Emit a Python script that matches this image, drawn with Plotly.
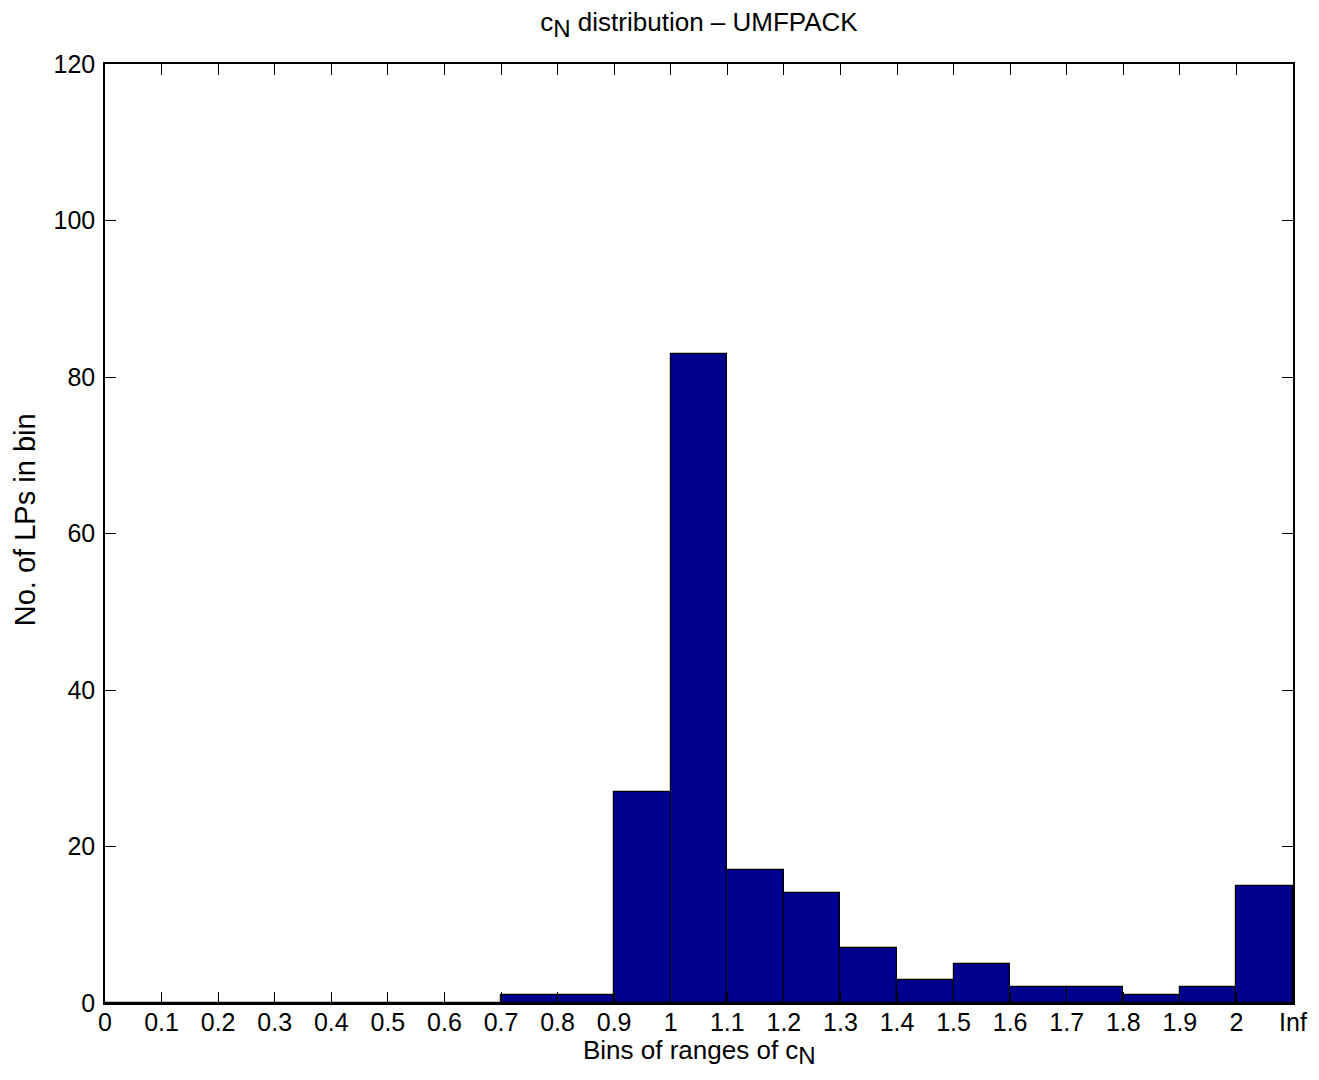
import plotly.graph_objects as go

tick_labels = ["0", "0.1", "0.2", "0.3", "0.4", "0.5", "0.6", "0.7", "0.8", "0.9", "1",
               "1.1", "1.2", "1.3", "1.4", "1.5", "1.6", "1.7", "1.8", "1.9", "2", "Inf"]
bin_index = list(range(21))
counts = [0, 0, 0, 0, 0, 0, 0, 1, 1, 27, 83, 17, 14, 7, 3, 5, 2, 2, 1, 2, 15]
y_ticks = [0, 20, 40, 60, 80, 100, 120]

fig = go.Figure()
fig.add_trace(go.Bar(
    x=[i + 0.5 for i in bin_index],
    y=counts,
    width=1,
    marker=dict(color="#00008F", line=dict(color="black", width=1.2)),
    hoverinfo="x+y",
))

FS = 25
TFS = 26
font = dict(family="Liberation Sans, Arial, sans-serif", size=FS, color="black")
H = 1072
PLOT_W = 1191
PLOT_H = 939

fig.update_layout(
    width=1311, height=H,
    margin=dict(l=97, r=23, t=56, b=77),
    plot_bgcolor="white", paper_bgcolor="white",
    font=font,
    showlegend=False,
    bargap=0,
    title=dict(text="c<sub><span style='font-size:24px'>N</span></sub> distribution – UMFPACK",
               xref="paper", x=0.5, xanchor="center",
               y=1 - 14 / H, yanchor="middle", font=dict(size=TFS)),
    xaxis=dict(
        range=[0, 21],
        tickmode="array", tickvals=list(range(22)), ticktext=tick_labels,
        ticks="inside", ticklen=11, tickcolor="black", tickwidth=1,
        showline=True, linecolor="black", linewidth=1.5, mirror="ticks",
        showgrid=False, zeroline=False,
        tickfont=dict(size=FS),
        ticklabelstandoff=-4,
    ),
    yaxis=dict(
        range=[0, 120],
        tickmode="array", tickvals=y_ticks,
        ticks="inside", ticklen=11, tickcolor="black", tickwidth=1,
        showline=True, linecolor="black", linewidth=1.5, mirror="ticks",
        showgrid=False, zeroline=False,
        tickfont=dict(size=FS),
        ticklabelstandoff=3,
    ),
    annotations=[
        dict(text="Bins of ranges of c<sub><span style='font-size:24px'>N</span></sub>",
             xref="paper", yref="paper", x=0.5, y=-(1052 - 1003) / PLOT_H,
             xanchor="center", yanchor="middle", showarrow=False,
             font=dict(size=TFS)),
        dict(text="No. of LPs in bin",
             xref="paper", yref="paper", x=(25 - 105) / PLOT_W, y=(1003 - 520) / PLOT_H,
             xanchor="center", yanchor="middle", showarrow=False, textangle=-90,
             font=dict(size=29)),
    ],
)

fig.write_html("out.html")
